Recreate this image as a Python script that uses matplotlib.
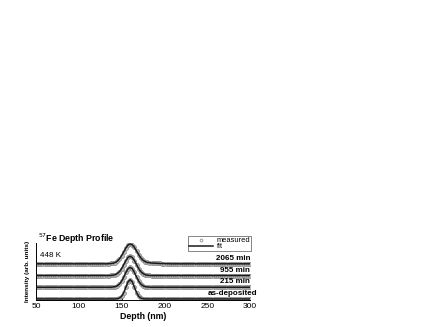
import matplotlib
matplotlib.use("Agg")
import matplotlib.pyplot as plt
from matplotlib.ticker import MultipleLocator

plt.rcParams['font.family'] = ['Liberation Sans', 'DejaVu Sans']

# Depth grid (nm), 2.5 nm steps
depth_left = [50, 52.5, 55, 57.5, 60, 62.5, 65, 67.5, 70, 72.5, 75, 77.5, 80, 82.5, 85, 87.5,
              90, 92.5, 95, 97.5, 100, 102.5, 105, 107.5, 110, 112.5, 115, 117.5, 120, 122.5,
              125, 127.5, 130, 132.5, 135, 137.5, 140]
depth_peak = [142.5, 145, 147.5, 150, 152.5, 155, 157.5, 160, 162.5, 165, 167.5, 170,
              172.5, 175, 177.5, 180, 182.5, 185]
depth_right = [187.5, 190, 192.5, 195, 197.5, 200, 202.5, 205, 207.5, 210, 212.5, 215,
               217.5, 220, 222.5, 225, 227.5, 230, 232.5, 235, 237.5, 240, 242.5, 245,
               247.5, 250, 252.5, 255, 257.5, 260, 262.5, 265, 267.5, 270, 272.5, 275,
               277.5, 280, 282.5, 285, 287.5, 290, 292.5, 295, 297.5, 300]

# Intensities (arb. units), before vertical offset
asdep_left = [0.0] * 37
asdep_peak = [0.0, 0.02, 0.07, 0.22, 0.54, 1.0, 1.46, 1.65, 1.46, 1.0, 0.54, 0.22,
              0.07, 0.02, 0.0, 0.0, 0.0, 0.0]
asdep_right = [0.0] * 46

m215_left = [0.0] * 36 + [0.02]
m215_peak = [0.05, 0.12, 0.27, 0.52, 0.87, 1.26, 1.58, 1.70, 1.58, 1.26, 0.87, 0.52,
             0.27, 0.12, 0.05, 0.02, 0.01, 0.0]
m215_right = [0.0] * 46

m955_left = [0.0] * 35 + [0.01, 0.03]
m955_peak = [0.07, 0.17, 0.33, 0.59, 0.93, 1.28, 1.55, 1.65, 1.55, 1.28, 0.93, 0.59,
             0.33, 0.17, 0.07, 0.03, 0.01, 0.0]
m955_right = [0.0] * 46

m2065_left = [0.0] * 34 + [0.01, 0.03, 0.05]
m2065_peak = [0.11, 0.23, 0.42, 0.70, 1.03, 1.36, 1.61, 1.70, 1.62, 1.40, 1.09, 0.78,
              0.50, 0.31, 0.19, 0.12, 0.09, 0.07]
m2065_right = [0.06, 0.05, 0.04, 0.03, 0.025, 0.02, 0.015, 0.01] + [0.0] * 38

series_labels = ["as-deposited", "215 min", "955 min", "2065 min"]
offsets = [0, 1, 2, 3]

depth = depth_left + depth_peak + depth_right
series = [
    asdep_left + asdep_peak + asdep_right,
    m215_left + m215_peak + m215_right,
    m955_left + m955_peak + m955_right,
    m2065_left + m2065_peak + m2065_right,
]

fig = plt.figure(figsize=(4.36, 3.27), dpi=100)
ax = fig.add_axes([36 / 436, 1 - 300 / 327, 214 / 436, 57 / 327])

mk = dict(linestyle='none', marker='o', markersize=2.8,
          markerfacecolor='#bdbdbd', markeredgecolor='#808080', markeredgewidth=0.5)
for vals, off in zip(series, offsets):
    y = [v + off for v in vals]
    ax.plot(depth, y, **mk, zorder=2)
    ax.plot(depth, y, color='#1a1a1a', linewidth=1.1, zorder=3)

label_x = [309, 300, 300, 300]
for lab, off, lx in zip(series_labels, offsets, label_x):
    ax.text(lx, off + 0.45, lab, ha='right', va='center', fontsize=5.8,
            fontweight='bold', clip_on=False, zorder=6)

ax.text(55, 3.67, "448 K", ha='left', va='center', fontsize=5.8, zorder=6)
ax.text(52, 5.12, r"$^{57}$Fe Depth Profile", ha='left', va='center',
        fontsize=6.3, fontweight='bold', clip_on=False, zorder=6)

ax.set_xlim(50, 300)
ax.set_ylim(-0.09, 4.78)
ax.xaxis.set_major_locator(MultipleLocator(50))
ax.xaxis.set_minor_locator(MultipleLocator(25))
ax.tick_params(axis='x', which='major', direction='in', length=2, width=0.6,
               labelsize=6, pad=2)
ax.tick_params(axis='x', which='minor', direction='in', length=1.2, width=0.5)
ax.set_yticks([])
ax.spines['top'].set_visible(False)
ax.spines['right'].set_visible(False)
ax.spines['left'].set_linewidth(0.7)
ax.spines['bottom'].set_linewidth(0.7)

ax.set_xlabel("Depth (nm)", fontsize=6.3, fontweight='bold', labelpad=1.5)
ax.set_ylabel("Intensity (arb. units)", fontsize=4.6, fontweight='bold', labelpad=4)

h1, = ax.plot([], [], linestyle='none', marker='o', markersize=2.0,
              markerfacecolor='white', markeredgecolor='#808080', markeredgewidth=0.5)
h2, = ax.plot([], [], color='#1a1a1a', linewidth=1.1)
leg = fig.legend([h1, h2], ["measured", "fit"], loc='upper right',
                 bbox_to_anchor=(251 / 436, 1 - 236 / 327), fontsize=5.4,
                 frameon=True, fancybox=False, edgecolor='#555555', framealpha=1,
                 handlelength=3.2, handletextpad=0.5, borderpad=0.12,
                 labelspacing=-0.12, borderaxespad=0)
leg.get_frame().set_linewidth(0.5)

fig.savefig("out.png", dpi=100)
